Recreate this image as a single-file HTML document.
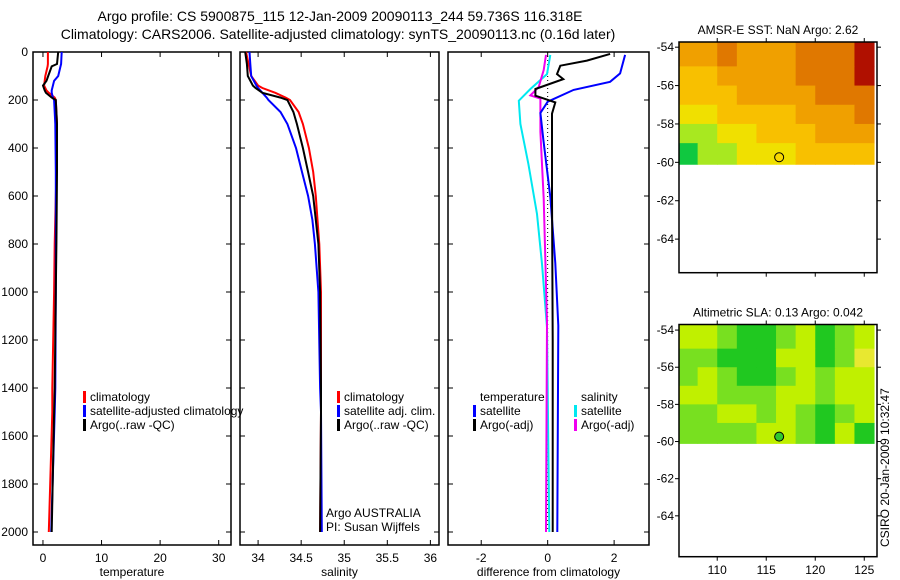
<!DOCTYPE html>
<html><head><meta charset="utf-8"><style>
body{margin:0;background:#fff;}
svg{display:block;font-family:"Liberation Sans",sans-serif;}
</style></head><body>
<svg id="c" width="900" height="580" viewBox="0 0 900 580">
<text x="340" y="21" font-size="14" text-anchor="middle">Argo profile: CS 5900875_115 12-Jan-2009 20090113_244 59.736S 116.318E</text>
<text x="338" y="39" font-size="14" text-anchor="middle">Climatology: CARS2006. Satellite-adjusted climatology: synTS_20090113.nc (0.16d later)</text>
<g id="g"></g>
</svg>
<script>
// depth grids and profile values
const depthT=[0,50,60,100,120,140,160,170,190,200,300,500,800,1000,1400,1500,2000];
const tempArgo=[2.6,2.4,1.5,0.9,0.6,0.0,0.3,0.5,1.5,2.2,2.4,2.4,2.3,2.2,2.0,1.9,1.5];
const tempClim=[0.85,0.85,0.8,0.4,0.3,0.2,0.6,1.0,2.0,2.2,2.4,2.3,2.0,1.9,1.6,1.6,1.0];
const tempSat=[3.2,3.1,3.0,2.6,1.9,1.7,1.5,1.5,1.7,1.9,2.1,2.2,2.2,2.2,2.1,2.0,1.4];
const depthS=[0,50,100,140,150,170,190,200,250,300,400,500,600,700,800,1000,1400,1500,2000];
const salArgo=[33.85,33.87,33.88,33.94,33.97,34.05,34.26,34.34,34.41,34.45,34.52,34.58,34.64,34.67,34.70,34.72,34.73,34.73,34.72];
const salClim=[33.86,33.89,33.92,34.0,34.05,34.2,34.32,34.37,34.47,34.52,34.59,34.64,34.67,34.69,34.71,34.73,34.73,34.73,34.72];
const salSat=[33.90,33.91,33.92,33.98,34.0,34.05,34.1,34.12,34.26,34.34,34.44,34.51,34.58,34.63,34.66,34.70,34.72,34.73,34.74];
const depthD1=[12,89,124,158,207,254,367,603,880,1140,2000];
const diffTSat=[2.33,2.18,1.88,0.78,0.0,-0.22,-0.13,0.08,0.23,0.32,0.29];
const depthD2=[8,36,57,92,113,154,182,210,257,600,1200,2000];
const diffTArgo=[1.88,1.18,0.38,0.28,0.47,-0.37,-0.37,0.23,0.13,0.13,0.15,0.15];
const depthD3=[12,92,154,203,300,467,675,883,1147,2000];
const diffSSat=[0.08,-0.02,-0.52,-0.87,-0.82,-0.58,-0.32,-0.17,-0.02,0.05];
const depthD4=[12,75,146,181,194,333,611,1125,2000];
const diffSArgo=[-0.05,-0.12,-0.27,-0.52,-0.22,-0.22,-0.12,-0.02,-0.05];
const depthTicks=[0,200,400,600,800,1000,1200,1400,1600,1800,2000];
const tempTicks=[0,10,20,30];
const salTicks=[34,34.5,35,35.5,36];
const diffTicks=[-2,0,2];
const latTicks=[-54,-56,-58,-60,-62,-64];
const lonTicks=[110,115,120,125];
// map cell values (rows lat -54..-60 in 1 deg, cols 106..126 in 2 deg)
const sstGrid=[[4,4,5,4,4,4,5,5,5,6],[3,3,4,4,4,4,5,5,5,6],[3,3,3,4,4,4,4,5,5,5],[2,2,3,3,3,3,4,4,4,5],[1,1,2,2,3,3,3,4,4,4],[0,1,1,2,2,2,3,3,3,3]];
const slaGrid=[[2,2,1,0,0,1,2,0,1,2],[1,1,0,0,0,2,2,0,1,3],[1,2,1,0,0,1,2,1,2,2],[2,2,1,1,1,2,2,1,2,2],[1,1,2,2,1,2,1,0,1,2],[1,1,1,1,2,2,1,0,2,0]];
const sstColors=["#10c840","#a8e820","#f0e000","#f8c000","#f0a000","#e07800","#b01000"];
const slaColors=["#20c820","#78e020","#c0f000","#e8e830"];
const argoPos=[116.318,-59.736];

const NS="http://www.w3.org/2000/svg";
const G=document.getElementById('g');
function el(tag,attrs,parent){const e=document.createElementNS(NS,tag);for(const k in attrs)e.setAttribute(k,attrs[k]);(parent||G).appendChild(e);return e;}
const dTop=52,dBot=545;
const yD=d=>dTop+d*0.24;

function panel(x0,x1,xmin,xmax,ticks,label,name){
  const xs=v=>x0+(v-xmin)/(xmax-xmin)*(x1-x0);
  const f=el('rect',{x:x0,y:dTop,width:x1-x0,height:dBot-dTop,fill:'none',stroke:'#000','stroke-width':1.5});
  
  
  ticks.forEach(t=>{
    const x=xs(t);
    el('line',{x1:x,x2:x,y1:dBot,y2:dBot-5,stroke:'#000'});
    el('line',{x1:x,x2:x,y1:dTop,y2:dTop+5,stroke:'#000'});
    const tx=el('text',{x:x,y:dBot+17,'font-size':12,'text-anchor':'middle'});
    tx.textContent=t;
    
    
  });
  depthTicks.forEach(d=>{
    el('line',{x1:x0,x2:x0+5,y1:yD(d),y2:yD(d),stroke:'#000'});
    el('line',{x1:x1,x2:x1-5,y1:yD(d),y2:yD(d),stroke:'#000'});
  });
  const lb=el('text',{x:(x0+x1)/2,y:dBot+31,'font-size':12,'text-anchor':'middle'});
  lb.textContent=label;
  
  
  return xs;
}
function line(xs,depths,vals,color,name,w){
  const p=el('polyline',{points:depths.map((d,i)=>xs(vals[i]).toFixed(1)+','+yD(d).toFixed(1)).join(' '),fill:'none',stroke:color,'stroke-width':w||2});
  
  
}
function legend(x,y,color,text,name){
  el('rect',{x:x,y:y-10,width:3,height:12,fill:color});
  const t=el('text',{x:x+7,y:y,'font-size':12});
  t.textContent=text;
  
  
}
function txt(x,y,s,name,opts){const t=el('text',Object.assign({x:x,y:y,'font-size':12},opts||{}));t.textContent=s;return t;}

depthTicks.forEach(d=>{txt(28,yD(d)+4,d,'depth-tick-label',{'text-anchor':'end'});});

const xT=panel(33,231,-1.7,32.1,tempTicks,'temperature','temperature-panel');
line(xT,depthT,tempClim,'#f00','temp-climatology-line');
line(xT,depthT,tempSat,'#00f','temp-satellite-line');
line(xT,depthT,tempArgo,'#000','temp-argo-line');
legend(83,401,'#f00','climatology','temp-legend-climatology');
legend(83,415,'#00f','satellite-adjusted climatology','temp-legend-satellite');
legend(83,429,'#000','Argo(..raw -QC)','temp-legend-argo');

const xS=panel(240,439,33.79,36.1,salTicks,'salinity','salinity-panel');
line(xS,depthS,salClim,'#f00','sal-climatology-line');
line(xS,depthS,salSat,'#00f','sal-satellite-line');
line(xS,depthS,salArgo,'#000','sal-argo-line');
legend(337,401,'#f00','climatology','sal-legend-climatology');
legend(337,415,'#00f','satellite adj. clim.','sal-legend-satellite');
legend(337,429,'#000','Argo(..raw -QC)','sal-legend-argo');
txt(326,517,'Argo AUSTRALIA','argo-agency-note');
txt(326,531,'PI: Susan Wijffels','pi-note');

const xDf=panel(448,649,-3.0,3.05,diffTicks,'difference from climatology','difference-panel');
el('line',{x1:xDf(0),x2:xDf(0),y1:yD(0),y2:yD(2000),stroke:'#000','stroke-dasharray':'1,3'});
line(xDf,depthD3,diffSSat,'#00e8f0','diff-sal-satellite-line');
line(xDf,depthD4,diffSArgo,'#f000f0','diff-sal-argo-line');
line(xDf,depthD1,diffTSat,'#00f','diff-temp-satellite-line');
line(xDf,depthD2,diffTArgo,'#000','diff-temp-argo-line');
txt(480,401,'temperature','diff-legend-temp-title');
legend(473,415,'#00f','satellite','diff-legend-temp-satellite');
legend(473,429,'#000','Argo(-adj)','diff-legend-temp-argo');
txt(581,401,'salinity','diff-legend-sal-title');
legend(574,415,'#00e8f0','satellite','diff-legend-sal-satellite');
legend(574,429,'#f000f0','Argo(-adj)','diff-legend-sal-argo');

function map(top,bot,latTop,latBot,grid,colors,title,name){
  const x0=679,x1=877,lonMin=106.1,lonMax=126.3;
  const xs=v=>x0+(v-lonMin)/(lonMax-lonMin)*(x1-x0);
  const ys=v=>top+(latTop-v)/(latTop-latBot)*(bot-top);
  grid.forEach((row,r)=>row.forEach((v,c)=>{
    const la=-54-r, lo=106+2*c;
    const xa=Math.max(xs(lo),x0), xb=Math.min(xs(lo+2),x1);
    const ya=r===0?top:ys(la), yb=ys(la-1)+(r===grid.length-1?ys(-60.1)-ys(-60):0);
    const cell=el('rect',{x:xa,y:ya,width:xb-xa+0.5,height:yb-ya+0.5,fill:colors[v]});
    
    
  }));
  const f=el('rect',{x:x0,y:top,width:x1-x0,height:bot-top,fill:'none',stroke:'#000','stroke-width':1.5});
  
  
  latTicks.forEach(t=>{
    const y=ys(t);
    el('line',{x1:x0-4,x2:x0,y1:y,y2:y,stroke:'#000'});
    el('line',{x1:x1,x2:x1+4,y1:y,y2:y,stroke:'#000'});
    txt(674,y+4,t,name+'-lat-tick-label',{'text-anchor':'end'});
  });
  lonTicks.forEach(t=>{
    const x=xs(t);
    el('line',{x1:x,x2:x,y1:top,y2:top-4,stroke:'#000'});
    el('line',{x1:x,x2:x,y1:bot,y2:bot+4,stroke:'#000'});
  });
  const m=el('circle',{cx:xs(argoPos[0]),cy:ys(argoPos[1]),r:4.5,fill:name==='sst-map'?'#f8d800':'#30c830',stroke:'#000','stroke-width':1});
  
  
  txt((x0+x1)/2,top-8,title,name+'-title',{'text-anchor':'middle'});
  return xs;
}
const xm=map(42,272.7,-53.73,-65.75,sstGrid,sstColors,'AMSR-E SST: NaN Argo: 2.62','sst-map');
map(324.5,556.7,-53.7,-66.2,slaGrid,slaColors,'Altimetric SLA: 0.13 Argo: 0.042','sla-map');
lonTicks.forEach(t=>txt(xm(t),574,t,'lon-tick-label',{'text-anchor':'middle'}));
txt(0,0,'CSIRO 20-Jan-2009 10:32:47','csiro-timestamp',{transform:'translate(889,547) rotate(-90)'});
</script>
</body></html>
